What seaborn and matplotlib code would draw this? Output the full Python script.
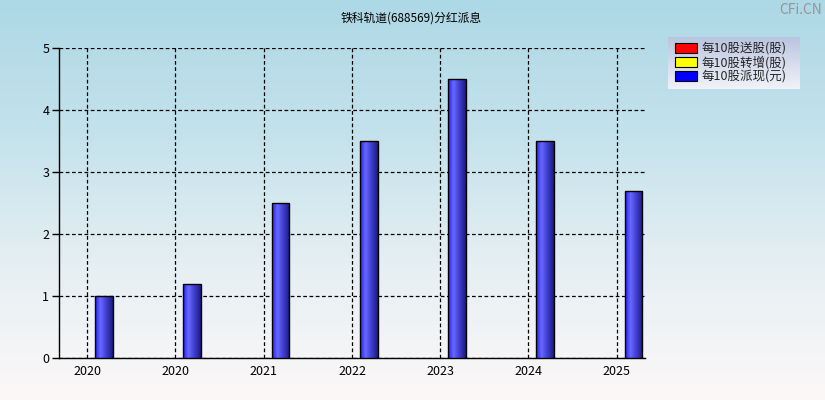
import matplotlib.pyplot as plt
import matplotlib.patches as mpatches
from matplotlib.colors import LinearSegmentedColormap
import seaborn as sns
import numpy as np
import pandas as pd

# data
years = ['2020', '2020', '2021', '2022', '2023', '2024', '2025']
cash_per_10 = [1.0, 1.2, 2.5, 3.5, 4.5, 3.5, 2.7]
legend_labels = ['每10股送股(股)', '每10股转增(股)', '每10股派现(元)']
legend_colors = ['#ff0000', '#ffff00', '#0000ff']

sns.set_theme(style='white')
plt.rcParams['font.family'] = ['Noto Sans CJK SC', 'DejaVu Sans']
plt.rcParams['axes.unicode_minus'] = False

fig = plt.figure(figsize=(8.25, 4), dpi=100)

# background gradient (light blue top -> near white bottom)
bg = fig.add_axes([0, 0, 1, 1], zorder=-10)
bg_cmap = LinearSegmentedColormap.from_list('bg', ['#fcf8f8', '#e6eff3', '#c4e2ec', '#add8e6'])
grad = np.linspace(0, 1, 256).reshape(-1, 1)
bg.imshow(grad, aspect='auto', cmap=bg_cmap, origin='lower', extent=[0, 1, 0, 1])
# legend box gradient
leg_cmap = LinearSegmentedColormap.from_list('lg', ['#f2f2f8', '#d6dcec', '#b9c4df'])
bg.imshow(grad, aspect='auto', cmap=leg_cmap, origin='lower',
          extent=[0.8097, 0.9685, 0.7775, 0.9075])
bg.set_xlim(0, 1)
bg.set_ylim(0, 1)
bg.axis('off')

ax = fig.add_axes([0.0715, 0.105, 0.7103, 0.775])
ax.patch.set_alpha(0)

df = pd.DataFrame({'pos': np.arange(len(years)) + 0.19, 'value': cash_per_10})
sns.barplot(data=df, x='pos', y='value', native_scale=True, width=0.2,
            color='#3030ff', edgecolor='black', linewidth=1.0, ax=ax, zorder=3)

bar_cmap = LinearSegmentedColormap.from_list(
    'bar', [(0.0, '#1e1eff'), (0.3, '#6a6aff'), (0.55, '#4848de'), (1.0, '#1a1a80')])
hgrad = np.linspace(0, 1, 64).reshape(1, -1)
for p in ax.patches:
    x0, y0 = p.get_x(), p.get_y()
    w, h = p.get_width(), p.get_height()
    im = ax.imshow(hgrad, aspect='auto', cmap=bar_cmap, extent=[x0, x0 + w, y0, y0 + h],
                   zorder=3.5, interpolation='bilinear')
    im.set_clip_path(p)
    p.set_facecolor('none')
    p.set_zorder(4)

ax.set_xlim(-0.32, len(years) - 1 + 0.32)
ax.set_ylim(0, 5)
ax.set_xticks(np.arange(len(years)))
ax.set_xticklabels(years)
ax.set_yticks([0, 1, 2, 3, 4, 5])
ax.set_xlabel('')
ax.set_ylabel('')
ax.tick_params(axis='both', labelsize=9, colors='black', length=5, width=1, direction='out')
ax.tick_params(axis='x', length=3, pad=2)
ax.tick_params(axis='y', left=True, pad=2)
ax.grid(True, color='black', linestyle=(0, (3, 2)), linewidth=0.9, zorder=1)
for s in ['top', 'right']:
    ax.spines[s].set_visible(False)
for s in ['left', 'bottom']:
    ax.spines[s].set_color('black')
    ax.spines[s].set_linewidth(1.0)

fig.text(0.498, 0.955, '铁科轨道(688569)分红派息', ha='center', va='center', fontsize=8.5, color='black')
fig.text(0.997, 0.976, 'CFi.CN', ha='right', va='center', fontsize=10, color='#959595')

handles = [mpatches.Patch(facecolor=c, edgecolor='black', linewidth=0.8) for c in legend_colors]
leg = fig.legend(handles, legend_labels, loc='upper left', bbox_to_anchor=(0.806, 0.92),
                 fontsize=9, frameon=False, handlelength=1.75, handleheight=0.85,
                 labelspacing=0.05, borderpad=0.3, handletextpad=0.35)

fig.savefig('out.png', dpi=100)
